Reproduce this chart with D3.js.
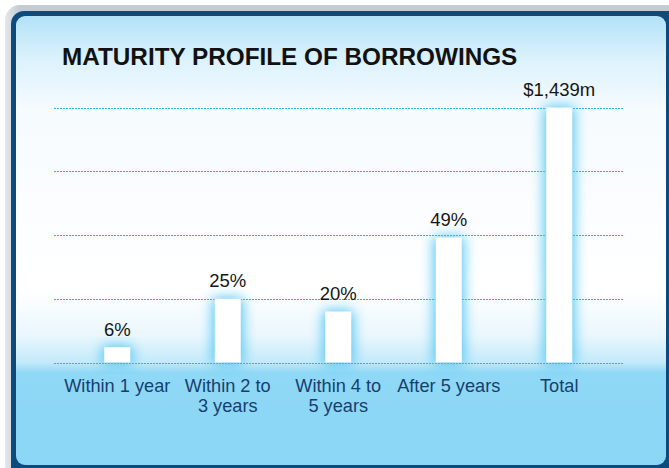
<!DOCTYPE html>
<html><head><meta charset="utf-8">
<script src="https://cdn.jsdelivr.net/npm/d3@7"></script>
<style>html,body{margin:0;padding:0;background:#fff;}svg{display:block;font-family:"Liberation Sans",Arial,Helvetica,sans-serif;}</style>
</head><body>
<script>
const categories = [["Within 1 year"], ["Within 2 to", "3 years"], ["Within 4 to", "5 years"], ["After 5 years"], ["Total"]];
const values = [6, 25, 20, 49, 100];
const valueLabels = ["6%", "25%", "20%", "49%", "$1,439m"];
const gridTicks = [0, 25, 50, 75, 100];
const title = "MATURITY PROFILE OF BORROWINGS";

const W = 669, H = 468;
const svg = d3.select("body").append("svg").attr("width", W).attr("height", H);
const defs = svg.append("defs");

const gBg = defs.append("linearGradient").attr("id", "bg")
  .attr("gradientUnits", "userSpaceOnUse").attr("x1", 0).attr("y1", 16).attr("x2", 0).attr("y2", 465);
[[16, "#b3e2f8"], [60, "#dcf2fc"], [110, "#f6fbfe"], [290, "#ffffff"], [335, "#eaf7fd"], [362, "#c4eafa"], [373, "#8fd8f6"], [465, "#8ad6f5"]]
  .forEach(([y, c]) => gBg.append("stop").attr("offset", (y - 16) / 449).attr("stop-color", c));

const gGray = defs.append("linearGradient").attr("id", "gray").attr("x1", 0).attr("y1", 0).attr("x2", 1).attr("y2", 0);
gGray.append("stop").attr("offset", 0).attr("stop-color", "#e4e9ed");
gGray.append("stop").attr("offset", 0.02).attr("stop-color", "#c3ccd3");
gGray.append("stop").attr("offset", 1).attr("stop-color", "#c3ccd3");

const glow = defs.append("filter").attr("id", "glow").attr("x", "-150%").attr("y", "-50%").attr("width", "400%").attr("height", "200%");
glow.append("feGaussianBlur").attr("stdDeviation", 6.5);

svg.append("rect").attr("x", 5).attr("y", 5).attr("width", 700).attr("height", 500).attr("rx", 15).attr("fill", "url(#gray)");
svg.append("rect").attr("x", 11).attr("y", 11).attr("width", 690).attr("height", 490).attr("rx", 13).attr("fill", "#0d4b7f");
svg.append("rect").attr("x", 16).attr("y", 16).attr("width", 650).attr("height", 449).attr("rx", 9).attr("fill", "url(#bg)");

const y = d3.scaleLinear().domain([0, 100]).range([362.5, 107.5]);
const x = d3.scalePoint().domain(d3.range(categories.length)).range([62, 614.5]).padding(0.5);
const barW = 26;

svg.append("g").selectAll("line").data(gridTicks).join("line")
  .attr("x1", 54).attr("x2", 623)
  .attr("y1", d => Math.round(y(d)) + 0.5).attr("y2", d => Math.round(y(d)) + 0.5)
  .attr("stroke", "#35ade8").attr("stroke-width", 1).attr("stroke-dasharray", "2,1");

const bars = svg.append("g").selectAll("g").data(values).join("g");
bars.append("rect")
  .attr("x", (d, i) => x(i) - barW / 2 - 2).attr("width", barW + 4)
  .attr("y", d => y(d) - 1).attr("height", d => y(0) - y(d) + 3)
  .attr("fill", "#45c2f2").attr("opacity", 0.95).attr("filter", "url(#glow)");
bars.append("rect")
  .attr("x", (d, i) => x(i) - barW / 2).attr("width", barW)
  .attr("y", d => y(d)).attr("height", d => y(0) - y(d))
  .attr("fill", "#ffffff");

svg.append("g").selectAll("text").data(values).join("text")
  .attr("x", (d, i) => x(i)).attr("y", d => y(d) - 11.5)
  .attr("text-anchor", "middle").attr("font-size", 18.5).attr("fill", "#151515")
  .text((d, i) => valueLabels[i]);

const cat = svg.append("g").selectAll("text").data(categories).join("text")
  .attr("x", (d, i) => x(i)).attr("y", 392)
  .attr("text-anchor", "middle").attr("font-size", 18.2).attr("fill", "#173f6e");
cat.selectAll("tspan").data(d => d).join("tspan")
  .attr("x", function () { return d3.select(this.parentNode).attr("x"); })
  .attr("dy", (d, j) => j === 0 ? 0 : 20).text(d => d);

svg.append("text").attr("x", 62).attr("y", 64.5).attr("font-size", 24.3).attr("font-weight", "bold")
  .attr("fill", "#111").text(title);
</script>
</body></html>
